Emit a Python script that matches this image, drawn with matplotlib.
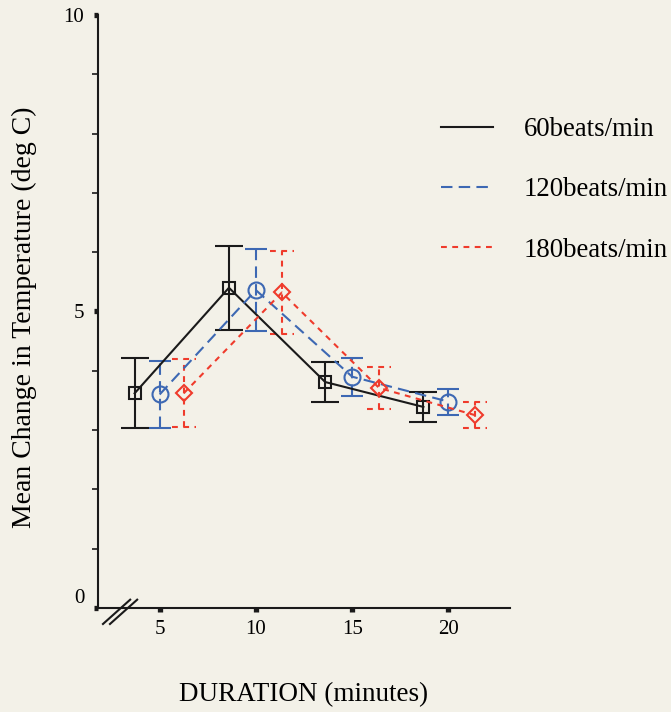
import numpy as np
import matplotlib
matplotlib.use('Agg')
import matplotlib.pyplot as plt
from matplotlib.lines import Line2D

# data ___________________________________________________________

x60 = [3.7, 8.6, 13.6, 18.7]
y60 = [3.62, 5.40, 3.81, 3.39]
e60 = [0.59, 0.71, 0.33, 0.25]

x120 = [5.0, 10.0, 15.0, 20.0]
y120 = [3.60, 5.36, 3.90, 3.48]
e120 = [0.56, 0.69, 0.32, 0.22]

x180 = [6.25, 11.35, 16.4, 21.4]
y180 = [3.62, 5.32, 3.71, 3.25]
e180 = [0.57, 0.70, 0.35, 0.22]

labels = ['60beats/min', '120beats/min', '180beats/min']
xticks = [5, 10, 15, 20]
yticks = [0, 5, 10]

bg = '#f3f1e8'
c_black = '#1a1a1a'
c_blue = '#3d68b3'
c_red = '#ef3b2c'
dash_blue = (0, (5.5, 3))
dash_red = (0, (2.8, 2.6))

plt.rcParams['font.family'] = ['Liberation Serif', 'DejaVu Serif']

fig = plt.figure(figsize=(6.71, 7.12), dpi=100, facecolor=bg)
ax = fig.add_axes([0.1461, 0.1461, 0.614, 0.8329])
ax.set_facecolor(bg)

# 60 beats/min
ax.errorbar(x60, y60, yerr=e60, color=c_black, lw=1.5, marker='s', ms=8.5,
            mfc='none', mew=1.5, capsize=10, capthick=1.5, elinewidth=1.5,
            zorder=3)

# 120 beats/min
eb = ax.errorbar(x120, y120, yerr=e120, color=c_blue, lw=1.5, ls=dash_blue,
                 marker='o', ms=11.5, mfc='none', mew=1.5, capsize=8,
                 capthick=1.5, elinewidth=1.5, zorder=3)
eb[2][0].set_linestyle(dash_blue)

# 180 beats/min, dashed caps drawn by hand
eb = ax.errorbar(x180, y180, yerr=e180, color=c_red, lw=1.5, ls=dash_red,
                 marker='D', ms=8.5, mfc='none', mew=1.5, capsize=0,
                 elinewidth=1.5, zorder=3)
eb[2][0].set_linestyle(dash_red)
x180a = np.array(x180)
y180a = np.array(y180)
e180a = np.array(e180)
for yy in (y180a - e180a, y180a + e180a):
    ax.hlines(yy, x180a - 0.62, x180a + 0.62, color=c_red, lw=1.5,
              linestyles=dash_red, zorder=3)

ax.set_xlim(1.8, 23.2)
ax.set_ylim(0, 10)

for s in ['top', 'right']:
    ax.spines[s].set_visible(False)
for s in ['left', 'bottom']:
    ax.spines[s].set_linewidth(1.5)
    ax.spines[s].set_color(c_black)

ax.set_xticks(xticks)
ax.set_yticks(yticks)
ax.set_yticks([1, 2, 3, 4, 6, 7, 8, 9], minor=True)
ax.tick_params(axis='both', which='major', length=3, width=3.8,
               direction='out', color=c_black, labelsize=15)
ax.tick_params(axis='y', which='major', pad=7)
ax.tick_params(axis='x', which='major', pad=6)
ax.tick_params(axis='y', which='minor', length=4.5, width=1.2,
               direction='out', color=c_black)
ax.get_yticklabels()[0].set_verticalalignment('bottom')

ax.set_xlabel('DURATION (minutes)', fontsize=19.5, labelpad=31)
ax.set_ylabel('Mean Change in Temperature (deg C)', fontsize=20)
ax.yaxis.set_label_coords(-0.148, 0.49)

# axis break marks
for dx in (0.0, 0.017):
    ax.add_line(Line2D([0.012 + dx, 0.078 + dx], [-0.027, 0.014],
                       transform=ax.transAxes, color=c_black, lw=1.5,
                       clip_on=False))

handles = [Line2D([], [], color=c_black, lw=1.5),
           Line2D([], [], color=c_blue, lw=1.5, ls=dash_blue),
           Line2D([], [], color=c_red, lw=1.5, ls=dash_red)]
ax.legend(handles, labels, loc='upper left',
          bbox_to_anchor=(441 / 671, 1 - 117 / 712),
          bbox_transform=fig.transFigure, frameon=False, fontsize=19.3,
          borderpad=0, borderaxespad=0, handlelength=1.93,
          handletextpad=1.15, labelspacing=1.32)

fig.savefig('out.png', dpi=100, facecolor=bg)
